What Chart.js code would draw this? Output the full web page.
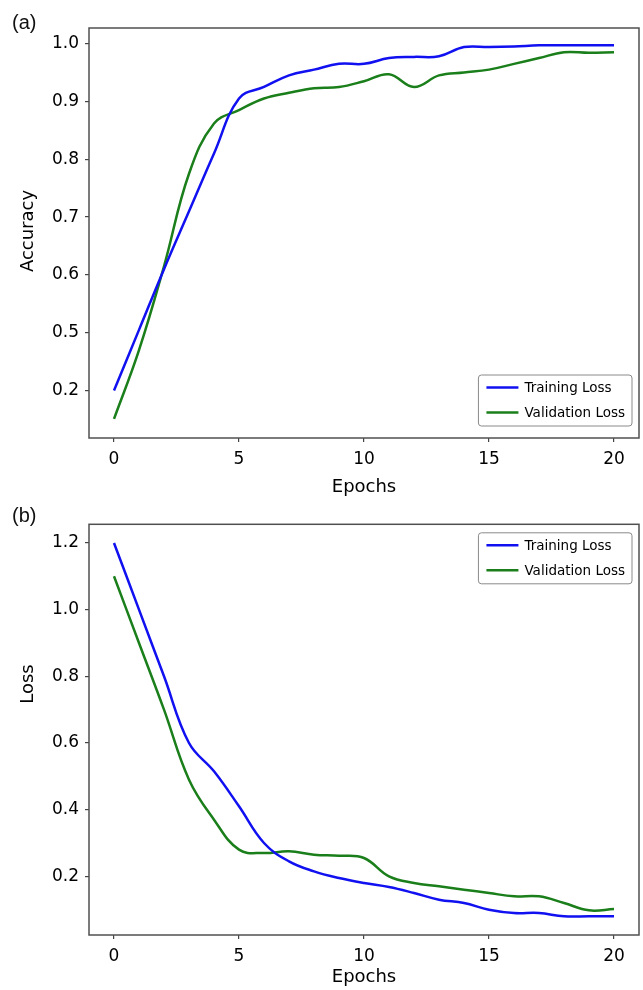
<!DOCTYPE html>
<html>
<head>
<meta charset="utf-8">
<script src="https://cdn.jsdelivr.net/npm/chart.js@4.4.0/dist/chart.umd.min.js"></script>
<style>
  body { margin: 0; background: #fff; }
  #page { position: relative; width: 643px; height: 990px; overflow: hidden; background: #fff; }
  canvas { position: absolute; left: 0; }
  .panel { position: absolute; left: 12px; font: 20px "Liberation Sans", Arial, sans-serif; line-height: 20px; color: #111; }
</style>
</head>
<body>
<div id="page">
  <canvas id="accChart" width="643" height="500" style="top:0"></canvas>
  <canvas id="lossChart" width="643" height="490" style="top:500px"></canvas>
  <div class="panel" style="top:12px">(a)</div>
  <div class="panel" style="top:505px">(b)</div>
</div>
<script>
// epochs on the x axis
var epochs = [0, 1, 2, 3, 4, 5, 6, 7, 8, 9, 10, 11, 12, 13, 14, 15, 16, 17, 18, 19, 20];
var xTicks = [0, 5, 10, 15, 20];

// (a) accuracy, in axis position units (the lowest tick sits at 0.4 but is labelled "0.2")
var accTrain = [0.40, 0.505, 0.61, 0.71, 0.81, 0.905, 0.925, 0.945, 0.955, 0.965, 0.965,
                0.975, 0.977, 0.978, 0.994, 0.994, 0.995, 0.997, 0.997, 0.997, 0.997];
var accVal = [0.351, 0.47, 0.615, 0.775, 0.862, 0.885, 0.905, 0.915, 0.923, 0.925, 0.935,
              0.947, 0.925, 0.945, 0.95, 0.955, 0.965, 0.975, 0.985, 0.984, 0.985];
var accTicks = [0.4, 0.5, 0.6, 0.7, 0.8, 0.9, 1.0];
var accTickLabels = ['0.2', '0.5', '0.6', '0.7', '0.8', '0.9', '1.0'];

// (b) loss
var lossTrain = [1.2, 1.0, 0.8, 0.6, 0.515, 0.41, 0.30, 0.245, 0.215, 0.195, 0.18,
                 0.168, 0.15, 0.13, 0.12, 0.10, 0.09, 0.09, 0.08, 0.08, 0.08];
var lossVal = [1.1, 0.9, 0.7, 0.49, 0.37, 0.28, 0.27, 0.275, 0.265, 0.262, 0.255,
               0.2, 0.18, 0.17, 0.16, 0.15, 0.14, 0.14, 0.12, 0.098, 0.102];
var lossTicks = [0.2, 0.4, 0.6, 0.8, 1.0, 1.2];
var lossTickLabels = ['0.2', '0.4', '0.6', '0.8', '1.0', '1.2'];

var FONT = '"DejaVu Sans", sans-serif';

// frame around the plot, rotated y title and the boxed legend
var framePlugin = {
  id: 'frame',
  afterDraw: function (chart, args, opts) {
    var ctx = chart.ctx, a = chart.chartArea;
    ctx.save();
    ctx.strokeStyle = '#505050';
    ctx.lineWidth = 1.5;
    ctx.strokeRect(a.left, a.top, a.right - a.left, a.bottom - a.top);

    // y title
    ctx.fillStyle = '#000';
    ctx.font = '18px ' + FONT;
    ctx.textAlign = 'center';
    ctx.textBaseline = 'middle';
    ctx.translate(opts.titleX, opts.titleY);
    ctx.rotate(-Math.PI / 2);
    ctx.fillText(opts.title, 0, 0);
    ctx.setTransform(1, 0, 0, 1, 0, 0);

    // legend
    var ds = chart.data.datasets;
    ctx.font = '13.5px ' + FONT;
    var textW = Math.max.apply(null, ds.map(function (d) { return ctx.measureText(d.label).width; }));
    var w = 8 + 32 + 6 + textW + 7, h = 51;
    var x = a.right - 7 - w;
    var y = opts.legendAt === 'top' ? a.top + 8.5 : a.bottom - 12 - h;
    ctx.beginPath();
    ctx.roundRect(x, y, w, h, 3);
    ctx.fillStyle = 'rgba(255,255,255,0.9)';
    ctx.fill();
    ctx.strokeStyle = '#8a8a8a';
    ctx.lineWidth = 1;
    ctx.stroke();
    ctx.textAlign = 'left';
    ds.forEach(function (d, i) {
      var ly = y + 12.5 + i * 25;
      ctx.strokeStyle = d.borderColor;
      ctx.lineWidth = 2.5;
      ctx.beginPath();
      ctx.moveTo(x + 8, ly);
      ctx.lineTo(x + 40, ly);
      ctx.stroke();
      ctx.fillStyle = '#000';
      ctx.fillText(d.label, x + 46, ly + 1);
    });
    ctx.restore();
  }
};

function points(ys) {
  return epochs.map(function (e, i) { return { x: e, y: ys[i] }; });
}

function makeChart(id, train, val, yTicks, yLabels, yMin, yMax, padTop, xAxisH, frame) {
  var ctx = document.getElementById(id).getContext('2d');
  return new Chart(ctx, {
    type: 'line',
    data: {
      datasets: [{
        label: 'Training Loss',
        data: points(train),
        borderColor: '#1010f0',
        borderWidth: 2.5,
        pointRadius: 0,
        tension: 0.4,
        fill: false
      }, {
        label: 'Validation Loss',
        data: points(val),
        borderColor: '#1a7f1a',
        borderWidth: 2.5,
        pointRadius: 0,
        tension: 0.4,
        fill: false
      }]
    },
    options: {
      responsive: false,
      animation: false,
      layout: { padding: { top: padTop, right: 4, left: 0, bottom: 0 } },
      plugins: {
        legend: { display: false },
        tooltip: { enabled: false },
        frame: frame
      },
      scales: {
        x: {
          type: 'linear',
          min: -1,
          max: 21,
          afterBuildTicks: function (s) { s.ticks = xTicks.map(function (v) { return { value: v }; }); },
          afterFit: function (s) { s.height = xAxisH; },
          border: { display: false },
          grid: { drawOnChartArea: false, drawTicks: true, tickLength: 4, tickColor: '#444', lineWidth: 1.2 },
          ticks: { color: '#000', font: { family: FONT, size: 17 }, padding: 7, maxRotation: 0, autoSkip: false },
          title: { display: true, text: 'Epochs', color: '#000', font: { family: FONT, size: 18 }, padding: { top: 0, bottom: 2 } }
        },
        y: {
          type: 'linear',
          min: yMin,
          max: yMax,
          afterBuildTicks: function (s) { s.ticks = yTicks.map(function (v) { return { value: v }; }); },
          afterFit: function (s) { s.width = 89; },
          border: { display: false },
          grid: { drawOnChartArea: false, drawTicks: true, tickLength: 4, tickColor: '#444', lineWidth: 1.2 },
          ticks: {
            color: '#000',
            font: { family: FONT, size: 17 },
            padding: 6,
            autoSkip: false,
            callback: function (v, i) { return yLabels[i]; }
          }
        }
      }
    },
    plugins: [framePlugin]
  });
}

makeChart('accChart', accTrain, accVal, accTicks, accTickLabels, 0.318, 1.027, 28, 62,
  { title: 'Accuracy', titleX: 28, titleY: 231, legendAt: 'bottom' });
makeChart('lossChart', lossTrain, lossVal, lossTicks, lossTickLabels, 0.024, 1.256, 24.3, 55,
  { title: 'Loss', titleX: 28, titleY: 184, legendAt: 'top' });
</script>
</body>
</html>
